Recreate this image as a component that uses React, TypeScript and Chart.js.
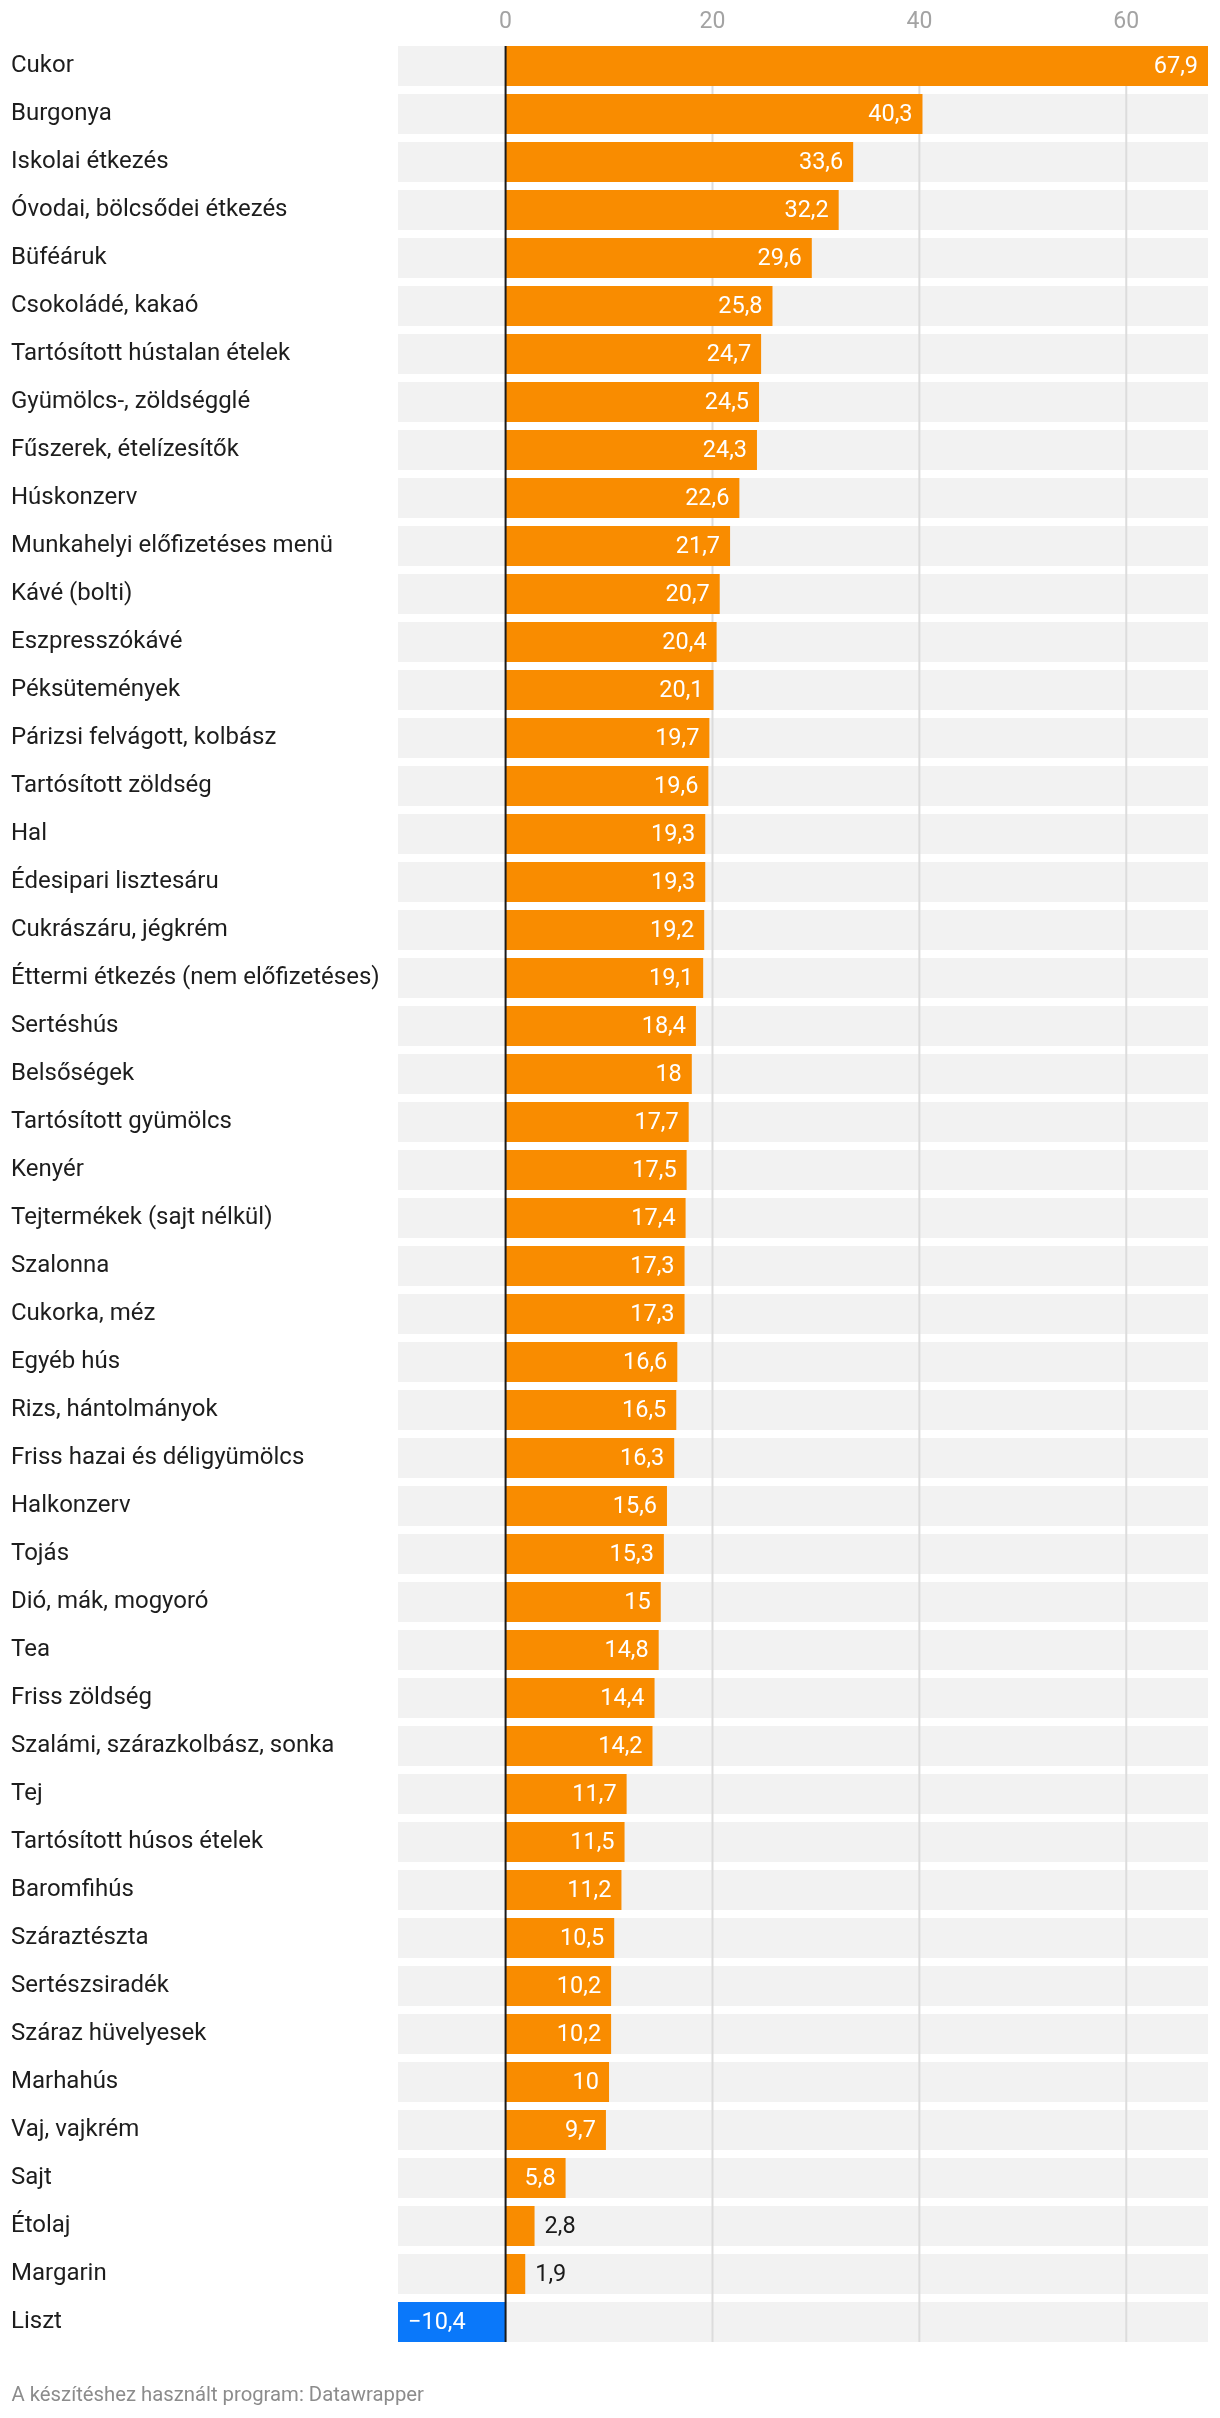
import React, { useEffect, useRef } from "react";
import { Chart, registerables } from "chart.js";

Chart.register(...registerables);

const categories: string[] = [
  "Cukor",
  "Burgonya",
  "Iskolai étkezés",
  "Óvodai, bölcsődei étkezés",
  "Büféáruk",
  "Csokoládé, kakaó",
  "Tartósított hústalan ételek",
  "Gyümölcs-, zöldségglé",
  "Fűszerek, ételízesítők",
  "Húskonzerv",
  "Munkahelyi előfizetéses menü",
  "Kávé (bolti)",
  "Eszpresszókávé",
  "Péksütemények",
  "Párizsi felvágott, kolbász",
  "Tartósított zöldség",
  "Hal",
  "Édesipari lisztesáru",
  "Cukrászáru, jégkrém",
  "Éttermi étkezés (nem előfizetéses)",
  "Sertéshús",
  "Belsőségek",
  "Tartósított gyümölcs",
  "Kenyér",
  "Tejtermékek (sajt nélkül)",
  "Szalonna",
  "Cukorka, méz",
  "Egyéb hús",
  "Rizs, hántolmányok",
  "Friss hazai és déligyümölcs",
  "Halkonzerv",
  "Tojás",
  "Dió, mák, mogyoró",
  "Tea",
  "Friss zöldség",
  "Szalámi, szárazkolbász, sonka",
  "Tej",
  "Tartósított húsos ételek",
  "Baromfihús",
  "Száraztészta",
  "Sertészsiradék",
  "Száraz hüvelyesek",
  "Marhahús",
  "Vaj, vajkrém",
  "Sajt",
  "Étolaj",
  "Margarin",
  "Liszt",
];

const values: number[] = [
  67.9, 40.3, 33.6, 32.2, 29.6, 25.8, 24.7, 24.5, 24.3, 22.6, 21.7, 20.7, 20.4,
  20.1, 19.7, 19.6, 19.3, 19.3, 19.2, 19.1, 18.4, 18, 17.7, 17.5, 17.4, 17.3,
  17.3, 16.6, 16.5, 16.3, 15.6, 15.3, 15, 14.8, 14.4, 14.2, 11.7, 11.5, 11.2,
  10.5, 10.2, 10.2, 10, 9.7, 5.8, 2.8, 1.9, -10.4,
];

const tickValues: number[] = [0, 20, 40, 60];
const axisMin = -10.4;
const axisMax = 67.9;
const footerText = "A készítéshez használt program: Datawrapper";

const ORANGE = "#f98c00";
const BLUE = "#0a78fa";
const ROW_BG = "#f2f2f2";
const GRID = "#dcdcdc";
const ZERO = "#1a1a1a";
const FONT = "Roboto";

const fmt = (v: number) =>
  (v < 0 ? "\u2212" : "") + Math.abs(v).toString().replace(".", ",");

const rowBackground = {
  id: "rowBackground",
  beforeDraw(chart: any) {
    const { ctx } = chart;
    const x = chart.scales.x;
    const meta = chart.getDatasetMeta(0);
    ctx.save();
    ctx.fillStyle = ROW_BG;
    meta.data.forEach((bar: any) => {
      const p = bar.getProps(["y", "height"], true);
      ctx.fillRect(x.left, p.y - p.height / 2, x.right - x.left, p.height);
    });
    ctx.restore();
  },
};

const gridLines = {
  id: "gridLines",
  beforeDatasetsDraw(chart: any) {
    const { ctx } = chart;
    const x = chart.scales.x;
    const meta = chart.getDatasetMeta(0);
    const first = meta.data[0].getProps(["y", "height"], true);
    const last = meta.data[meta.data.length - 1].getProps(["y", "height"], true);
    const top = first.y - first.height / 2;
    const bottom = last.y + last.height / 2;
    ctx.save();
    ctx.strokeStyle = GRID;
    ctx.lineWidth = 2;
    tickValues.forEach((v) => {
      if (v === 0) return;
      const px = x.getPixelForValue(v);
      ctx.beginPath();
      ctx.moveTo(px, top);
      ctx.lineTo(px, bottom);
      ctx.stroke();
    });
    ctx.restore();
  },
  afterDatasetsDraw(chart: any) {
    const { ctx } = chart;
    const x = chart.scales.x;
    const meta = chart.getDatasetMeta(0);
    const first = meta.data[0].getProps(["y", "height"], true);
    const last = meta.data[meta.data.length - 1].getProps(["y", "height"], true);
    const top = first.y - first.height / 2;
    const bottom = last.y + last.height / 2;
    const px = x.getPixelForValue(0);
    ctx.save();
    ctx.strokeStyle = ZERO;
    ctx.lineWidth = 2;
    ctx.beginPath();
    ctx.moveTo(px, top);
    ctx.lineTo(px, bottom);
    ctx.stroke();
    ctx.restore();
  },
};

const valueLabels = {
  id: "valueLabels",
  afterDatasetsDraw(chart: any) {
    const { ctx } = chart;
    const meta = chart.getDatasetMeta(0);
    ctx.save();
    ctx.font = `23.5px ${FONT}`;
    ctx.textBaseline = "middle";
    meta.data.forEach((bar: any, i: number) => {
      const v = values[i];
      const txt = fmt(v);
      const p = bar.getProps(["x", "y", "base"], true);
      const w = Math.abs(p.x - p.base);
      const tw = ctx.measureText(txt).width;
      if (v >= 0) {
        if (tw + 20 <= w) {
          ctx.fillStyle = "#ffffff";
          ctx.textAlign = "right";
          ctx.fillText(txt, p.x - 10, p.y + 1);
        } else {
          ctx.fillStyle = "#1a1a1a";
          ctx.textAlign = "left";
          ctx.fillText(txt, p.x + 10, p.y + 1);
        }
      } else {
        ctx.fillStyle = "#ffffff";
        ctx.textAlign = "left";
        ctx.fillText(txt, p.x + 10, p.y + 1);
      }
    });
    ctx.restore();
  },
};

export default function App() {
  const canvasRef = useRef<HTMLCanvasElement | null>(null);

  useEffect(() => {
    if (!canvasRef.current) return;
    const chart = new Chart(canvasRef.current, {
      type: "bar",
      data: {
        labels: categories,
        datasets: [
          {
            data: values,
            backgroundColor: values.map((v) => (v < 0 ? BLUE : ORANGE)),
            borderWidth: 0,
            barPercentage: 40 / 48,
            categoryPercentage: 1,
          },
        ],
      },
      options: {
        indexAxis: "y",
        animation: false,
        responsive: false,
        devicePixelRatio: 1,
        layout: { padding: { left: 11, right: 12, top: 8, bottom: 72 } },
        plugins: {
          legend: { display: false },
          tooltip: { enabled: false },
        },
        scales: {
          x: {
            position: "top",
            min: axisMin,
            max: axisMax,
            afterBuildTicks: (scale: any) => {
              scale.ticks = tickValues.map((v) => ({ value: v }));
            },
            afterFit: (scale: any) => {
              scale.height = 34;
            },
            grid: { display: false, drawTicks: false },
            border: { display: false },
            ticks: {
              padding: 5.5,
              color: "#a3a3a3",
              font: { family: FONT, size: 23, lineHeight: 1.2 },
              callback: (v: any) => String(v),
            },
          },
          y: {
            position: "left",
            grid: { display: false, drawTicks: false },
            border: { display: false },
            afterFit: (scale: any) => {
              scale.width = 387;
            },
            ticks: {
              autoSkip: false,
              crossAlign: "far",
              padding: 0,
              color: "#1d1d1d",
              font: { family: FONT, size: 24, lineHeight: 1.2 },
            },
          },
        },
      },
      plugins: [rowBackground, gridLines, valueLabels],
    } as any);
    return () => chart.destroy();
  }, []);

  return (
    <div style={{ position: "absolute", left: 0, top: 0, width: 1220, height: 2418 }}>
      <canvas
        ref={canvasRef}
        width={1220}
        height={2418}
        style={{ width: 1220, height: 2418, display: "block" }}
      />
      <div
        style={{
          position: "absolute",
          left: 11.5,
          top: 2384,
          fontFamily: FONT,
          fontSize: 20.3,
          lineHeight: "20px",
          color: "#8c8c8c",
          whiteSpace: "nowrap",
        }}
      >
        {footerText}
      </div>
    </div>
  );
}
